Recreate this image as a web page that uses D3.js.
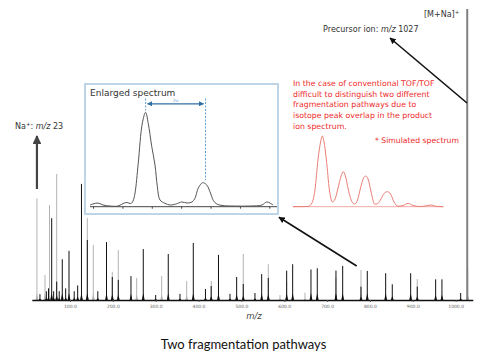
<!DOCTYPE html>
<html lang="en">
<head>
<meta charset="UTF-8">
<title>Two fragmentation pathways</title>
<style>
  body { margin: 0; background: #fff; }
  text { font-family: "DejaVu Sans", Verdana, sans-serif; }
</style>
</head>
<body>
<div id="chart"></div>
<script src="https://cdnjs.cloudflare.com/ajax/libs/d3/7.8.5/d3.min.js"></script>
<script>
// main spectrum: m/z and relative intensity (precursor = 100)
const tickValues = [100, 200, 300, 400, 500, 600, 700, 800, 900, 1000];

const blackMz  = [30, 45, 50, 57.4, 62, 69.1, 75, 82.1, 90, 97.8, 110, 118, 126.9, 140.5, 165, 185.3, 198.8, 212.8, 242.4, 271.1,
                  300, 329.4, 356.7, 387.8, 416.2, 429.5, 446.6, 473.4, 489, 504.4, 531.7, 547.4, 562.8, 605.7, 619.7,
                  662.4, 677.1, 720.7, 736.4, 779.1, 793.8, 836.7, 852.1, 895, 910.4, 953.3, 968, 1011.7];
const blackInt = [2, 3, 4, 28.1, 3, 6.3, 3, 14, 4, 16.9, 3, 5, 39.9, 20.6, 3, 19.9, 7.9, 6.9, 8.2, 17.5,
                  1.7, 15.8, 2.1, 19.6, 3.8, 4.8, 15.5, 2.1, 7.9, 5.5, 2.4, 8.9, 7.6, 10.1, 12.3,
                  10.5, 10.9, 10.1, 11.7, 4.6, 10, 9.2, 5.4, 9.2, 4.6, 7.1, 7.1, 2.4];

const grayMz  = [23, 41.8, 52.3, 69.1, 140.5, 154.5, 198.8, 212.8, 255.7, 314, 372.4, 429.8, 504.4, 562.8, 590.1,
                 605.7, 648.4, 720.7, 779.1, 910.4, 1028];
const grayInt = [34.9, 8.6, 32.6, 43.3, 28.1, 18.9, 9.7, 17.2, 7.6, 8.2, 6.5, 6.5, 15.8, 12.3, 1.7,
                 6.3, 2.5, 7.6, 10.3, 7.2, 10.7];

const precursorMz = [1027];
const precursorInt = [100];

// enlarged spectrum (inset)
const insetX = [-0.1, 0, 0.17, 0.34, 0.58, 0.85, 1.06, 1.16, 1.29, 1.36, 1.43, 1.54, 1.68, 1.79, 1.88, 2.0, 2.11, 2.19,
                2.28, 2.45, 2.62, 2.83, 3.02, 3.2, 3.37, 3.47, 3.58, 3.73, 3.87, 3.98, 4.1, 4.21, 4.39, 4.83, 5.34,
                5.75, 5.91, 6.02, 6.13];
const insetY = [1.8, 2.9, 3.9, 1.8, 0.7, 0.7, 3.9, 4.4, 3.4, 6.0, 14.5, 46.3, 88.7, 100, 88.3, 63.6, 44.2, 21.2,
                7.1, 3.6, 1.8, 2.9, 5.0, 3.9, 5.0, 8.9, 19.5, 25.4, 23.0, 15.9, 6.4, 2.9, 1.3, 0.7, 0.7,
                1.8, 5.0, 3.9, 1.8];
const insetTicks = [0, 1, 2, 3, 4, 5, 6];

// simulated spectrum
const simX = [-1.36, -0.66, -0.48, -0.34, -0.2, -0.08, 0, 0.08, 0.19, 0.33, 0.47, 0.59, 0.73, 0.87, 0.97, 1.07, 1.21,
              1.38, 1.51, 1.63, 1.77, 1.91, 2.01, 2.12, 2.26, 2.42, 2.53, 2.69, 2.86, 3.01, 3.16, 3.32, 3.5, 3.74,
              3.98, 4.2, 4.52, 4.76, 5.02, 5.26, 5.6];
const simY = [0, 0.3, 5.2, 23.6, 66.1, 91.5, 100, 91.5, 66.1, 23.6, 6.6, 10.9, 26.4, 43.4, 49.5, 43.4, 23.6,
              6.6, 3.8, 9.5, 26.4, 40.6, 43.4, 39, 20.8, 3.8, 3.8, 9.5, 18.7, 21.2, 18, 6.6, 0.7, 1.7,
              4.8, 1.7, 0.3, 1, 2.4, 0.6, 0];

const noteLines = ["In the case of conventional TOF/TOF",
                   "difficult to distinguish two different",
                   "fragmentation pathways due to",
                   "isotope peak overlap in the product",
                   "ion spectrum."];

const width = 500, height = 361;

const svg = d3.select("#chart").append("svg")
    .attr("width", width)
    .attr("height", height);

const defs = svg.append("defs");
function marker(id, color) {
    defs.append("marker")
        .attr("id", id)
        .attr("viewBox", "0 0 10 10")
        .attr("refX", 9).attr("refY", 5)
        .attr("markerWidth", 4).attr("markerHeight", 4)
        .attr("markerUnits", "strokeWidth")
        .attr("orient", "auto-start-reverse")
        .append("path")
        .attr("d", "M0,0 L10,5 L0,10 Z")
        .attr("fill", color);
}
marker("headBlack", "#111");
marker("headGray", "#444");
marker("headBlue", "#2f6fa3");

const x = d3.scaleLinear().domain([11, 1040]).range([31.8, 472.8]);
const y = d3.scaleLinear().domain([0, 100]).range([300, 9]);

// spikes
function drawPeaks(mz, inten, color, cls) {
    const peaks = mz.map((m, i) => ({ mz: m, v: inten[i] }));
    const g = svg.append("g").attr("class", cls);
    g.selectAll("path.base").data(peaks).enter()
        .append("path")
        .attr("d", d => {
            const px = x(d.mz), h = Math.min((y(0) - y(d.v)) * 0.25, 7);
            return `M${px - 1.4},${y(0)} L${px},${y(0) - h} L${px + 1.4},${y(0)} Z`;
        })
        .attr("fill", color);
    g.selectAll("line").data(peaks).enter()
        .append("line")
        .attr("x1", d => x(d.mz)).attr("x2", d => x(d.mz))
        .attr("y1", y(0)).attr("y2", d => y(d.v))
        .attr("stroke", color)
        .attr("stroke-width", 1);
}
drawPeaks(grayMz, grayInt, "#b3b3b3", "gray-peaks");
drawPeaks(blackMz, blackInt, "#111", "black-peaks");

svg.append("g").selectAll("line")
    .data(precursorMz.map((m, i) => ({ mz: m, v: precursorInt[i] })))
    .enter().append("line")
    .attr("x1", d => x(d.mz)).attr("x2", d => x(d.mz))
    .attr("y1", y(0)).attr("y2", d => y(d.v))
    .attr("stroke", "#808080")
    .attr("stroke-width", 2);

// axis
const xAxis = svg.append("g")
    .attr("transform", `translate(0,${y(0)})`)
    .call(d3.axisBottom(x).tickValues(tickValues).tickFormat(d3.format(".1f")).tickSize(2).tickSizeOuter(0));
xAxis.select(".domain").attr("stroke", "#111").attr("stroke-width", 1.4);
xAxis.selectAll(".tick line").attr("stroke", "#555");
xAxis.selectAll(".tick text")
    .attr("y", 5)
    .attr("fill", "#666")
    .style("font-size", "4.5px")
    .style("font-family", "DejaVu Sans, sans-serif");

svg.append("text")
    .attr("x", 254).attr("y", 318.5)
    .attr("text-anchor", "middle")
    .attr("font-style", "italic")
    .attr("font-size", 8.5)
    .attr("fill", "#444")
    .text("m/z");

// inset box
const inset = svg.append("g");
inset.append("rect")
    .attr("x", 85).attr("y", 84).attr("width", 193).attr("height", 130)
    .attr("fill", "#fff")
    .attr("stroke", "#bcd5e8")
    .attr("stroke-width", 2);

inset.append("text")
    .attr("x", 90).attr("y", 95.5)
    .attr("font-size", 9)
    .attr("fill", "#333")
    .text("Enlarged spectrum");

const ix = d3.scaleLinear().domain([0, 6]).range([93, 269.3]);
const iy = d3.scaleLinear().domain([0, 100]).range([206.7, 112.3]);

const insetAxis = inset.append("g")
    .attr("transform", `translate(0,${iy(0)})`)
    .call(d3.axisBottom(ix).tickValues(insetTicks).tickFormat("").tickSize(2).tickSizeOuter(0));
insetAxis.select(".domain").attr("stroke", "#444").attr("d", "M90,0H277");
insetAxis.selectAll(".tick line").attr("stroke", "#444");

inset.append("path")
    .datum(insetX.map((v, i) => [v, insetY[i]]))
    .attr("fill", "none")
    .attr("stroke", "#555")
    .attr("stroke-width", 1)
    .attr("d", d3.line().x(d => ix(d[0])).y(d => iy(d[1])).curve(d3.curveCatmullRom));

// dashed guides to the two peak tops
const guideX = [1.79, 3.83];
const guideTop = [100, 26];
inset.selectAll("line.guide").data(guideX).enter()
    .append("line")
    .attr("class", "guide")
    .attr("x1", d => ix(d)).attr("x2", d => ix(d))
    .attr("y1", 98.5)
    .attr("y2", (d, i) => iy(guideTop[i]) - 2)
    .attr("stroke", "#5b9fd6")
    .attr("stroke-width", 1)
    .attr("stroke-dasharray", "2,1.5");

inset.append("line")
    .attr("x1", ix(guideX[0]) + 2).attr("x2", ix(guideX[1]) - 2)
    .attr("y1", 103.8).attr("y2", 103.8)
    .attr("stroke", "#2f6fa3")
    .attr("stroke-width", 1.3)
    .attr("marker-start", "url(#headBlue)")
    .attr("marker-end", "url(#headBlue)");

inset.append("text")
    .attr("x", (ix(guideX[0]) + ix(guideX[1])) / 2).attr("y", 102)
    .attr("text-anchor", "middle")
    .attr("font-size", 4.5)
    .attr("fill", "#6fa3d0")
    .text("2u");

// simulated spectrum
const sx = d3.scaleLinear().domain([0, 5]).range([322.3, 430.3]);
const sy = d3.scaleLinear().domain([0, 100]).range([206.7, 136]);

svg.append("line")
    .attr("x1", 293).attr("x2", 443.3)
    .attr("y1", sy(0)).attr("y2", sy(0))
    .attr("stroke", "#f0a9a3")
    .attr("stroke-width", 1);

svg.append("path")
    .datum(simX.map((v, i) => [v, simY[i]]))
    .attr("fill", "none")
    .attr("stroke", "#ea7f76")
    .attr("stroke-width", 1)
    .attr("d", d3.line().x(d => sx(d[0])).y(d => sy(d[1])).curve(d3.curveMonotoneX));

// red note
svg.append("g").selectAll("text").data(noteLines).enter()
    .append("text")
    .attr("x", 293).attr("y", (d, i) => 86 + i * 10.67)
    .attr("font-size", 7.8)
    .attr("fill", "#ee2a2a")
    .text(d => d);

svg.append("text")
    .attr("x", 375).attr("y", 143)
    .attr("font-size", 7.7)
    .attr("fill", "#ee2a2a")
    .text("* Simulated spectrum");

// annotations
svg.append("line")
    .attr("x1", x(23)).attr("x2", x(23))
    .attr("y1", 189).attr("y2", 136)
    .attr("stroke", "#444")
    .attr("stroke-width", 2.2)
    .attr("marker-end", "url(#headGray)");

const naLabel = svg.append("text")
    .attr("x", 15).attr("y", 128.5)
    .attr("font-size", 8)
    .attr("fill", "#333");
naLabel.append("tspan").text("Na");
naLabel.append("tspan").attr("dy", -3).attr("font-size", 5.5).text("+");
naLabel.append("tspan").attr("dy", 3).text(": ");
naLabel.append("tspan").attr("font-style", "italic").text("m/z");
naLabel.append("tspan").text(" 23");

svg.append("line")
    .attr("x1", 467).attr("y1", 103)
    .attr("x2", 390).attr("y2", 38)
    .attr("stroke", "#111")
    .attr("stroke-width", 1.6)
    .attr("marker-end", "url(#headBlack)");

const precLabel = svg.append("text")
    .attr("x", 418.5).attr("y", 32)
    .attr("text-anchor", "end")
    .attr("font-size", 8)
    .attr("fill", "#333");
precLabel.append("tspan").text("Precursor ion: ");
precLabel.append("tspan").attr("font-style", "italic").text("m/z");
precLabel.append("tspan").text(" 1027");

const ionLabel = svg.append("text")
    .attr("x", 424).attr("y", 16.5)
    .attr("font-size", 8)
    .attr("fill", "#333");
ionLabel.append("tspan").text("[M+Na]");
ionLabel.append("tspan").attr("dy", -3).attr("font-size", 5.5).text("+");

svg.append("line")
    .attr("x1", 356.7).attr("y1", 266)
    .attr("x2", 279).attr("y2", 217.3)
    .attr("stroke", "#111")
    .attr("stroke-width", 1.6)
    .attr("marker-end", "url(#headBlack)");

// title
svg.append("text")
    .attr("x", 243.5).attr("y", 349)
    .attr("text-anchor", "middle")
    .style("font-family", "Lato, 'Open Sans', sans-serif")
    .attr("font-size", 13)
    .attr("fill", "#111")
    .text("Two fragmentation pathways");
</script>
</body>
</html>
